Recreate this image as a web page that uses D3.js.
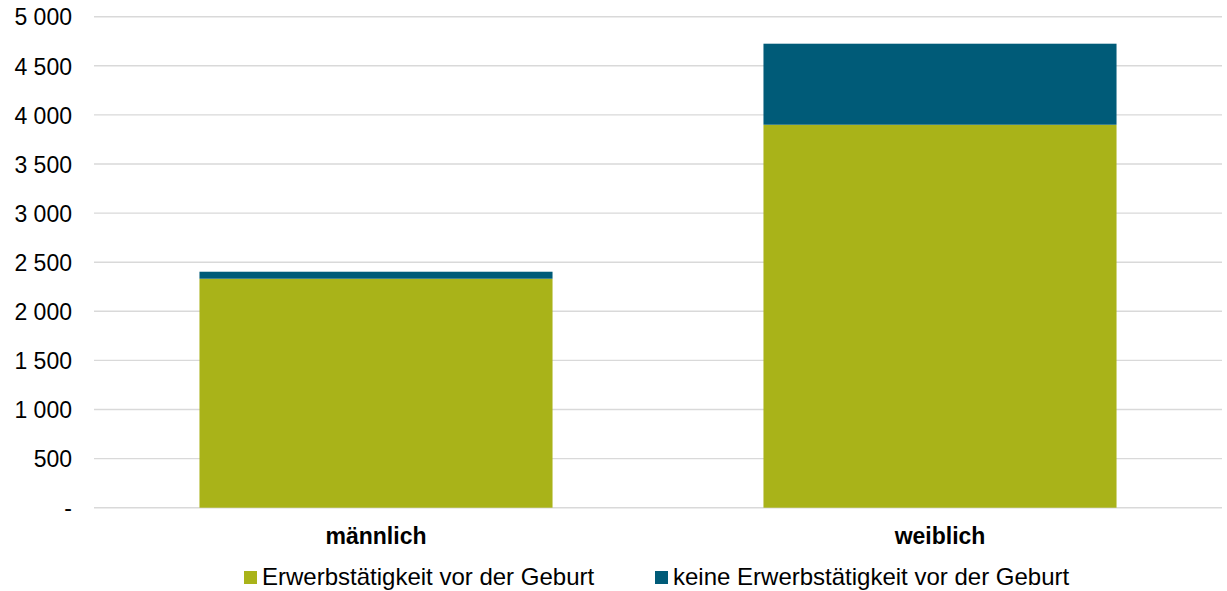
<!DOCTYPE html>
<html>
<head>
<meta charset="utf-8">
<script src="https://cdn.jsdelivr.net/npm/d3@7"></script>
<style>
  body { margin: 0; background: #fff; }
  text { font-family: "Liberation Sans", Arial, sans-serif; fill: #000; }
</style>
</head>
<body>
<div id="chart"></div>
<script>
// data
var categories = ['männlich', 'weiblich'];
var seriesNames = ['Erwerbstätigkeit vor der Geburt', 'keine Erwerbstätigkeit vor der Geburt'];
var erwerbstaetig = [2332, 3900];
var nichtErwerbstaetig = [71, 825];
var yTicks = [0, 500, 1000, 1500, 2000, 2500, 3000, 3500, 4000, 4500, 5000];
var colors = ['#a9b319', '#005b78'];

var w = 1227, h = 591;
var margin = { left: 94, right: 5, top: 16.7, bottom: 83.3 };

var svg = d3.select('#chart').append('svg')
	.attr('width', w)
	.attr('height', h);

var x = d3.scaleBand()
	.domain(categories)
	.range([margin.left, w - margin.right])
	.paddingInner(0.374)
	.paddingOuter(0.187);

var y = d3.scaleLinear()
	.domain([0, 5000])
	.range([h - margin.bottom, margin.top]);

var fmt = d3.formatLocale({ decimal: ',', thousands: ' ', grouping: [3], currency: ['', ' €'] }).format(',d');

// gridlines
svg.selectAll('line.grid')
	.data(yTicks)
	.enter().append('line')
		.attr('class', 'grid')
		.attr('x1', margin.left)
		.attr('x2', w - margin.right)
		.attr('y1', function (d) { return y(d); })
		.attr('y2', function (d) { return y(d); })
		.style('stroke', '#d9d9d9')
		.style('stroke-width', 1.4);

// y axis labels
var yAxis = d3.axisLeft(y)
	.tickValues(yTicks)
	.tickSize(0)
	.tickPadding(22)
	.tickFormat(function (d) { return d === 0 ? '-' : fmt(d); });

var gy = svg.append('g')
	.attr('transform', 'translate(' + margin.left + ',0)')
	.call(yAxis);
gy.select('.domain').remove();
gy.selectAll('text')
	.style('font-size', '23px')
	.style('font-family', '"Liberation Sans", Arial, sans-serif')
	.attr('fill', '#000')
	.attr('dy', '0.36em');

// stacked bars
var rows = categories.map(function (c, i) {
	return { cat: c, a: erwerbstaetig[i], b: nichtErwerbstaetig[i] };
});
var stacked = d3.stack().keys(['a', 'b'])(rows);

svg.selectAll('g.layer')
	.data(stacked)
	.enter().append('g')
		.attr('class', 'layer')
		.attr('fill', function (d, i) { return colors[i]; })
	.selectAll('rect')
	.data(function (d) { return d; })
	.enter().append('rect')
		.attr('x', function (d) { return x(d.data.cat); })
		.attr('width', x.bandwidth())
		.attr('y', function (d) { return y(d[1]); })
		.attr('height', function (d) { return y(d[0]) - y(d[1]); });

// x axis labels
var xAxis = d3.axisBottom(x).tickSize(0).tickPadding(0);
var gx = svg.append('g')
	.attr('transform', 'translate(0,' + y(0) + ')')
	.call(xAxis);
gx.select('.domain').remove();
gx.selectAll('text')
	.attr('dy', null)
	.attr('y', 36)
	.style('font-size', '23px')
	.style('font-weight', 'bold')
	.style('font-family', '"Liberation Sans", Arial, sans-serif')
	.attr('fill', '#000');

// legend
var legendX = [244, 655];
var legend = svg.selectAll('g.legend')
	.data(seriesNames)
	.enter().append('g')
		.attr('class', 'legend')
		.attr('transform', function (d, i) { return 'translate(' + legendX[i] + ',571)'; });

legend.append('rect')
	.attr('width', 13)
	.attr('height', 13)
	.attr('fill', function (d, i) { return colors[i]; });

legend.append('text')
	.attr('x', 18)
	.attr('y', 13.5)
	.style('font-size', '24px')
	.text(function (d) { return d; });
</script>
</body>
</html>
